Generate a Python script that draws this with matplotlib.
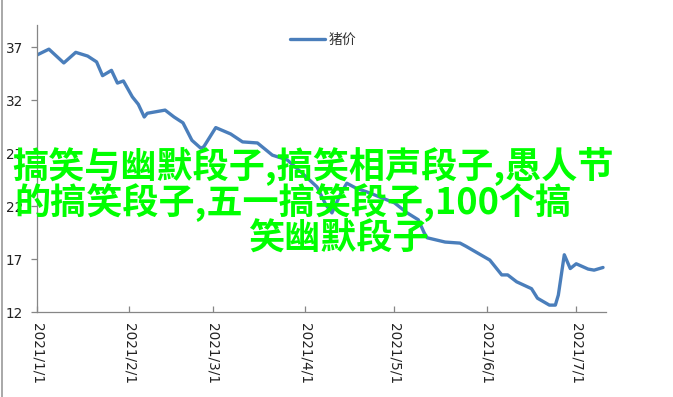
import pandas as pd
import matplotlib
matplotlib.use("Agg")
import matplotlib.pyplot as plt
import matplotlib.dates as mdates
from matplotlib.lines import Line2D

# pig price series
dates = [
    "2021-01-01", "2021-01-05", "2021-01-10", "2021-01-14", "2021-01-18", "2021-01-21",
    "2021-01-23", "2021-01-26", "2021-01-28", "2021-01-30", "2021-02-02", "2021-02-04",
    "2021-02-06", "2021-02-07", "2021-02-10", "2021-02-13", "2021-02-16", "2021-02-19",
    "2021-02-22", "2021-02-25", "2021-02-26", "2021-03-02", "2021-03-07", "2021-03-11",
    "2021-03-16", "2021-03-21", "2021-03-26", "2021-03-31", "2021-04-05", "2021-04-08",
    "2021-04-10", "2021-04-13", "2021-04-15", "2021-04-18", "2021-04-23", "2021-04-26",
    "2021-05-01", "2021-05-05", "2021-05-09", "2021-05-11", "2021-05-12", "2021-05-18",
    "2021-05-23", "2021-05-25", "2021-05-29", "2021-06-02", "2021-06-06", "2021-06-08",
    "2021-06-11", "2021-06-16", "2021-06-18", "2021-06-22", "2021-06-24", "2021-06-25",
    "2021-06-27", "2021-06-29", "2021-07-01", "2021-07-05", "2021-07-07", "2021-07-10",
]
prices = [
    36.25, 36.8, 35.5, 36.5, 36.15, 35.6,
    34.3, 34.8, 33.6, 33.8, 32.3, 31.6,
    30.4, 30.75, 30.9, 31.05, 30.4, 29.85,
    28.2, 27.45, 27.6, 29.4, 28.8, 28.05,
    27.95, 26.8, 26.35, 25.1, 23.8, 22.1,
    21.35, 23.2, 24.15, 23.7, 23.2, 22.85,
    22.3, 21.4, 20.7, 19.45, 19.0, 18.6,
    18.5, 18.2, 17.55, 16.9, 15.5, 15.5,
    14.85, 14.2, 13.3, 12.65, 12.65, 13.6,
    17.4, 16.1, 16.55, 16.05, 15.95, 16.2,
]
series_name = "猪价"
y_ticks = [12, 17, 22, 27, 32, 37]
x_ticks = ["2021-01-01", "2021-02-01", "2021-03-01", "2021-04-01",
           "2021-05-01", "2021-06-01", "2021-07-01"]
overlay_lines = [
    "搞笑与幽默段子,搞笑相声段子,愚人节",
    "的搞笑段子,五一搞笑段子,100个搞",
    "笑幽默段子",
]

plt.rcParams["font.family"] = ["DejaVu Sans", "Noto Sans CJK SC"]

fig = plt.figure(figsize=(6.73, 3.97), dpi=100)
ax = fig.add_axes([37 / 673, 1 - 312 / 397, (606 - 37) / 673, (312 - 25) / 397])

x = pd.to_datetime(dates)
ax.plot(x, prices, color="#4a7ebb", lw=2.4, solid_joinstyle="round",
        solid_capstyle="round", label=series_name)

ax.set_ylim(12, 39.08)
ax.set_xlim(pd.Timestamp("2021-01-01"), pd.Timestamp("2021-07-11"))
ax.set_yticks(y_ticks)
ax.set_xticks(pd.to_datetime(x_ticks))
ax.xaxis.set_major_formatter(mdates.DateFormatter("%Y/%-m/%-d"))

for side in ["top", "right"]:
    ax.spines[side].set_visible(False)
for side in ["left", "bottom"]:
    ax.spines[side].set_color("#868686")
    ax.spines[side].set_linewidth(0.9)

ax.tick_params(axis="y", direction="out", length=4, width=0.9, color="#868686",
               labelsize=9.8, pad=6, labelcolor="#222222")
ax.tick_params(axis="x", direction="in", length=4, width=0.9, color="#868686",
               labelsize=9.8, pad=8, labelcolor="#222222", labelrotation=270)
for lab in ax.get_xticklabels():
    lab.set_va("top")
    lab.set_ha("center")

ax.legend(loc="center left", bbox_to_anchor=(290 / 673, 1 - 40 / 397),
          bbox_transform=fig.transFigure, frameon=False, fontsize=10,
          handlelength=2.5, handletextpad=0.3, borderpad=0, borderaxespad=0,
          labelcolor="#333333")

# big green overlay text
fig.text(12 / 673, 1 - 166 / 397, overlay_lines[0], color="#00ff00",
         fontsize=26, fontweight="bold", family="Noto Sans CJK SC",
         ha="left", va="center", zorder=10)
fig.text(14 / 673, 1 - 203 / 397, overlay_lines[1], color="#00ff00",
         fontsize=26, fontweight="bold", family="Noto Sans CJK SC",
         ha="left", va="center", zorder=10)
fig.text(248 / 673, 1 - 239 / 397, overlay_lines[2], color="#00ff00",
         fontsize=26, fontweight="bold", family="Noto Sans CJK SC",
         ha="left", va="center", zorder=10)

# chart frame edge on the left
fig.add_artist(Line2D([2 / 673, 2 / 673], [0, 1], transform=fig.transFigure,
                      color="#9a9a9a", lw=1.2))

fig.savefig("out.png", dpi=100)
